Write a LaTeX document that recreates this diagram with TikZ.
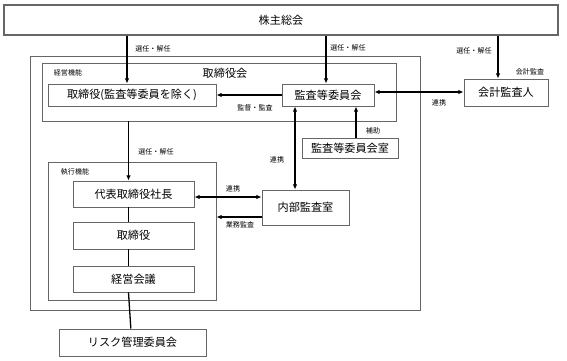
\documentclass[tikz,border=0pt]{standalone}
\usepackage{fontspec}
\newfontfamily\jpfont{Noto Sans CJK JP}
\usetikzlibrary{arrows.meta,positioning}

\begin{document}
\begin{tikzpicture}[x=0.03cm, y=-0.03cm,
  wh/.style 2 args={minimum width=#1*0.03cm, minimum height=#2*0.03cm},
  box/.style={rectangle, draw=black!60, line width=0.8pt, inner sep=0pt,
              align=center, font=\jpfont\fontsize{9.5}{11}\selectfont},
  frame/.style={rectangle, draw=black!60, line width=0.8pt, inner sep=0pt},
  note/.style={font=\jpfont\fontsize{6}{7}\selectfont, inner sep=1pt},
  arrow/.style={-{Latex[length=4.5pt,width=4pt]}, line width=1.1pt},
  dblarrow/.style={{Latex[length=4.5pt,width=4pt]}-{Latex[length=4.5pt,width=4pt]}, line width=1.1pt},
  link/.style={line width=1.1pt}
]
\useasboundingbox (0,0) rectangle (567,360);

% shareholders and outer frames
\node[box, wh={554}{30}, line width=1.2pt] (soukai) at (281,20) {株主総会};
\node[frame, wh={390}{254}] (outer) at (225,183) {};
\node[frame, wh={354}{58}] (board) at (219,92) {};
\node[note] (keiei) at (68,73) {経営機能};
\node[font=\jpfont\fontsize{9.5}{11}\selectfont] (boardt) at (225,73) {取締役会};

\node[box, wh={168}{22}] (tori) at (132,95) {取締役(監査等委員を除く)};
\node[box, wh={92}{22}] (kansa) at (328,95) {監査等委員会};
\node[box, wh={84}{27}] (kaikei) at (506,92.5) {会計監査人};
\node[note] (kaikeit) at (530,72) {会計監査};
\node[box, wh={96}{20}] (shitsu) at (350,148) {監査等委員会室};
\node[box, wh={87}{35}] (naibu) at (305.5,207.5) {内部監査室};

% execution
\node[frame, wh={168}{138}] (exec) at (132,231) {};
\node[note] (shikko) at (75,172) {執行機能};
\node[box, wh={121}{26}] (ceo) at (133.5,194) {代表取締役社長};
\node[box, wh={121}{27}] (dir) at (133.5,235.5) {取締役};
\node[box, wh={121}{26}] (mtg) at (133.5,279) {経営会議};
\node[box, wh={147}{27}] (risk) at (132.5,342.5) {リスク管理委員会};

% anchor points
\coordinate (t1) at ([xshift=-0.15cm]tori.north);
\coordinate (k1) at ([xshift=-0.06cm]kansa.north);
\coordinate (a1) at ([xshift=-0.24cm]kaikei.north);
\coordinate (c1) at ([xshift=-0.15cm]ceo.north);
\coordinate (s1) at ([xshift=0.18cm]shitsu.north);
\coordinate (n1) at ([xshift=-0.315cm]naibu.north);
\coordinate (k2) at ([yshift=0.09cm]kansa.east);
\coordinate (c2) at ([yshift=-0.09cm]ceo.east);
\coordinate (n2) at ([yshift=-0.285cm]naibu.west);

% connectors
\draw[arrow] (t1 |- soukai.south) -- (t1);
\draw[arrow] (k1 |- soukai.south) -- (k1);
\draw[arrow] (a1 |- soukai.south) -- (a1);
\draw[arrow] (kansa.west) -- (kansa.west -| tori.east);
\draw[dblarrow] (k2) -- (k2 -| kaikei.west);
\draw[arrow] (s1) -- (s1 |- kansa.south);
\draw[dblarrow] (n1 |- kansa.south) -- (n1);
\draw[arrow] (c1 |- board.south) -- (c1);
\draw[dblarrow] (c2) -- (c2 -| naibu.west);
\draw[arrow] (n2) -- (n2 -| exec.east);
\draw[link] ([xshift=-0.15cm]ceo.south) -- ([xshift=-0.15cm]dir.north);
\draw[link] ([xshift=-0.15cm]dir.south) -- ([xshift=-0.15cm]mtg.north);
\draw[link] ([xshift=-0.15cm]mtg.south) -- ([xshift=-0.05cm]risk.north);

% labels
\node[note] at (153,49) {選任・解任};
\node[note] at (348,48) {選任・解任};
\node[note] at (474,51) {選任・解任};
\node[note] at (156,152) {選任・解任};
\node[note] at (255,107.5) {監督・監査};
\node[note] at (439,103) {連携};
\node[note] at (373,131) {補助};
\node[note] at (277,160) {連携};
\node[note] at (233,189) {連携};
\node[note] at (240,225) {業務監査};

\end{tikzpicture}
\end{document}
